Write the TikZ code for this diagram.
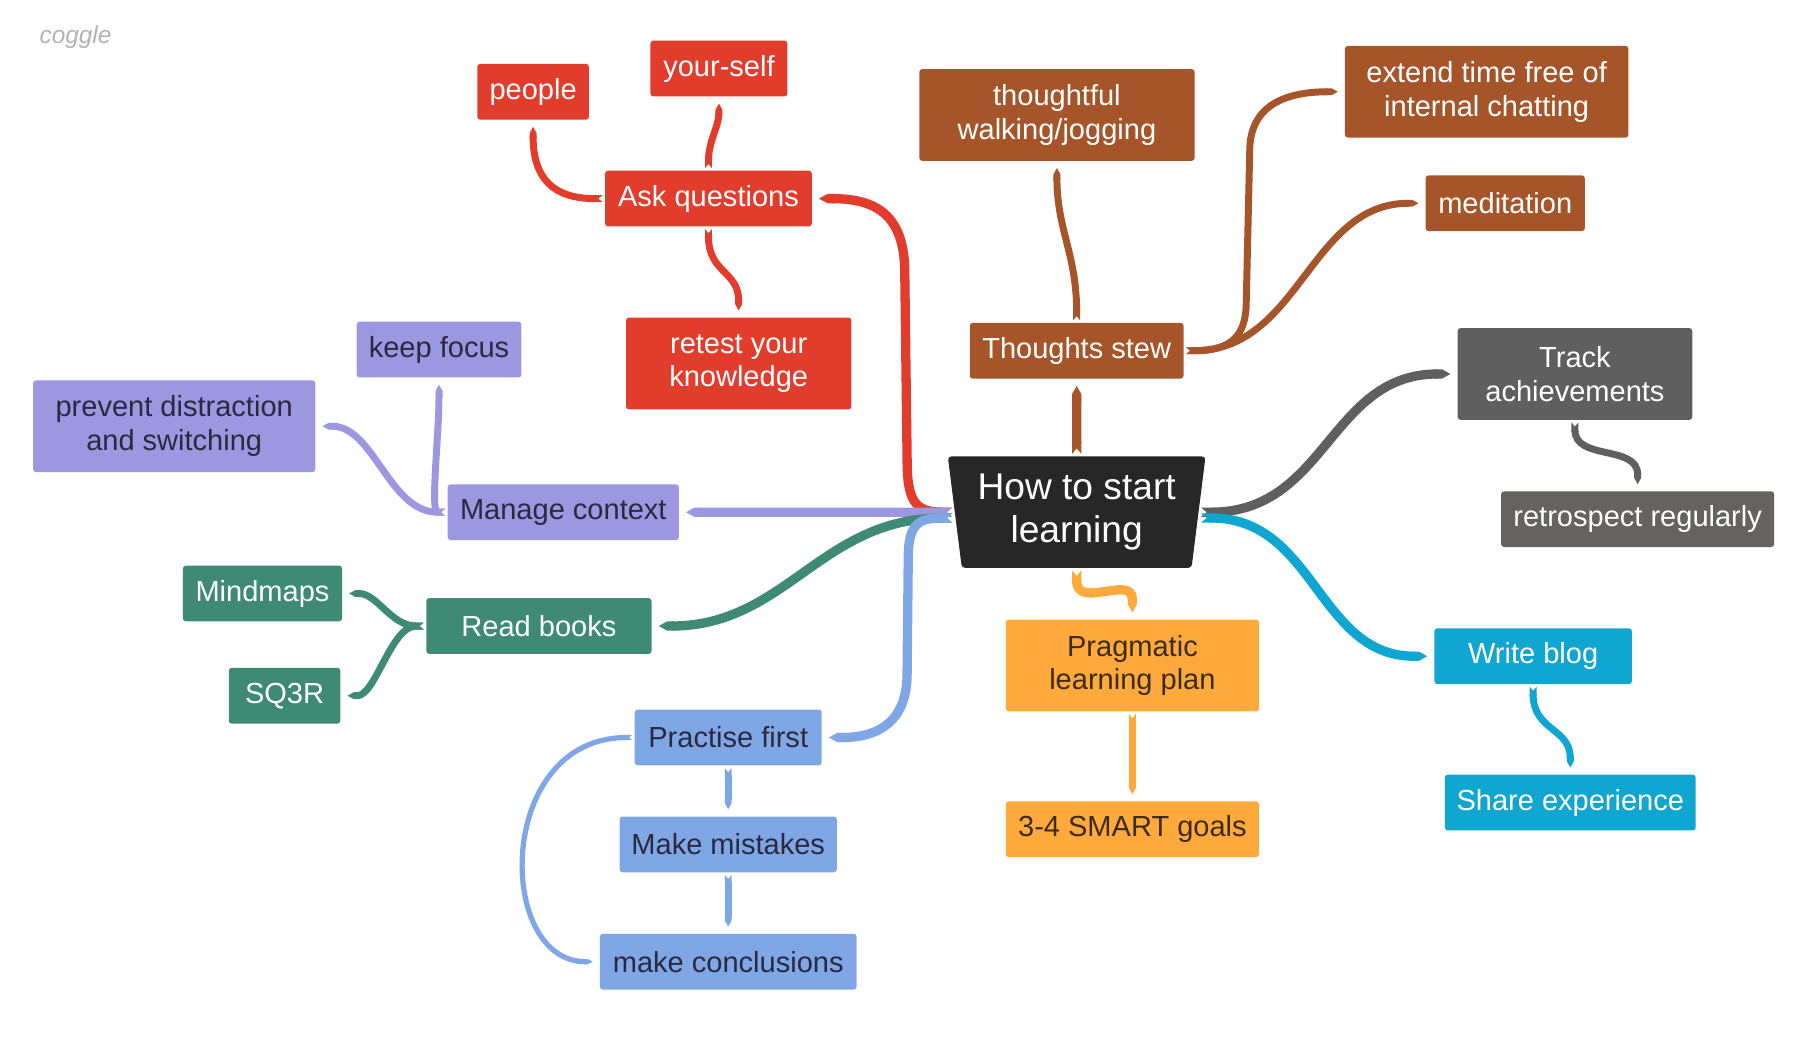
\documentclass[tikz,border=0pt]{standalone}
\usepackage{fontspec}
\setmainfont{Liberation Sans}
\usetikzlibrary{arrows.meta,shapes.geometric}
\definecolor{askred}{HTML}{E23C2D}
\definecolor{ctxpurple}{HTML}{9D96E1}
\definecolor{bookgreen}{HTML}{3E8A73}
\definecolor{practblue}{HTML}{7FA7E5}
\definecolor{stewbrown}{HTML}{A6542A}
\definecolor{trackgray}{HTML}{5F5F5F}
\definecolor{retrogray}{HTML}{666262}
\definecolor{blogcyan}{HTML}{0FA6D1}
\definecolor{planorange}{HTML}{FEA93B}
\definecolor{rootblack}{HTML}{272727}
\definecolor{darktext}{HTML}{2B2940}
\definecolor{plantext}{HTML}{3D2B17}
\def\topicfont{\fontsize{25}{29}\selectfont}
\def\rootfont{\fontsize{32}{37}\selectfont}
\tikzset{
  topic/.style={rectangle, rounded corners=2.5pt, inner sep=0pt, minimum height=48, align=center, font=\topicfont, text=white},
  tall/.style={minimum height=79},
  branch/.style={line width=8pt, arrows={Triangle Cap[reversed,length=0pt 0.6]-Triangle Cap[length=0pt 0.9]}, shorten <=2pt, shorten >=6pt},
  twig/.style={branch, line width=6pt},
  slimtwig/.style={branch, line width=4.5pt},
}
\begin{document}
\begin{tikzpicture}[x=1pt,y=-1pt]
  \useasboundingbox (0,0) rectangle (1567,893.7);
  \node[text=gray!60, font=\fontsize{21}{24}\selectfont\itshape] (brand) at (65,32) {coggle};

  % root
  \node[shape=trapezium, trapezium stretches=true, shape border rotate=180, trapezium left angle=81, trapezium right angle=81,
        minimum width=222, minimum height=96, inner sep=0pt, fill=rootblack, rounded corners=3pt,
        text=white, font=\rootfont, align=center] (root) at (927,441) {How to start\\learning};

  % red
  \node[topic, fill=askred, minimum width=178] (ask) at (610,171) {Ask questions};
  \node[topic, fill=askred, minimum width=96] (people) at (459,79) {people};
  \node[topic, fill=askred, minimum width=118] (yourself) at (619,59) {your-self};
  \node[topic, tall, fill=askred, minimum width=194] (retest) at (636,313) {retest your\\knowledge};
  % purple
  \node[topic, fill=ctxpurple, text=darktext, minimum width=199] (manage) at (485,441) {Manage context};
  \node[topic, fill=ctxpurple, text=darktext, minimum width=142] (focus) at (378,301) {keep focus};
  \node[topic, tall, fill=ctxpurple, text=darktext, minimum width=243] (prevent) at (150,367) {prevent distraction\\and switching};
  % green
  \node[topic, fill=bookgreen, minimum width=194] (books) at (464,539) {Read books};
  \node[topic, fill=bookgreen, minimum width=137] (mindmaps) at (226,511) {Mindmaps};
  \node[topic, fill=bookgreen, minimum width=96] (sqr) at (245,599) {SQ3R};
  % blue
  \node[topic, fill=practblue, text=darktext, minimum width=161] (practise) at (627,635) {Practise first};
  \node[topic, fill=practblue, text=darktext, minimum width=187] (mistakes) at (627,727) {Make mistakes};
  \node[topic, fill=practblue, text=darktext, minimum width=221] (conclude) at (627,828) {make conclusions};
  % brown
  \node[topic, fill=stewbrown, minimum width=184] (stew) at (927,302) {Thoughts stew};
  \node[topic, tall, fill=stewbrown, minimum width=237] (walking) at (910,99) {thoughtful\\walking/jogging};
  \node[topic, tall, fill=stewbrown, minimum width=244] (chatting) at (1280,79) {extend time free of\\internal chatting};
  \node[topic, fill=stewbrown, minimum width=137] (meditate) at (1296,175) {meditation};
  % gray
  \node[topic, tall, fill=trackgray, minimum width=202] (track) at (1356,322) {Track\\achievements};
  \node[topic, fill=retrogray, minimum width=235] (retro) at (1410,447) {retrospect regularly};
  % cyan
  \node[topic, fill=blogcyan, minimum width=170] (blog) at (1320,565) {Write blog};
  \node[topic, fill=blogcyan, minimum width=216] (share) at (1352,691) {Share experience};
  % orange
  \node[topic, tall, fill=planorange, text=plantext, minimum width=218] (plan) at (975,573) {Pragmatic\\learning plan};
  \node[topic, fill=planorange, text=plantext, minimum width=218] (smart) at (975,714) {3-4 SMART goals};

  % branches from the root
  \draw[branch, askred] (root.west) .. controls +(-35,0) and +(0,35) .. (781,395) -- (779,235) .. controls +(0,-50) and +(55,0) .. (ask.east);
  \draw[branch, ctxpurple] (root.west) -- (manage.east);
  \draw[branch, bookgreen] ([yshift=-5]root.west) .. controls +(-115,0) and +(115,0) .. (books.east);
  \draw[branch, practblue] ([yshift=-5]root.west) .. controls +(-30,0) and +(0,-30) .. (782,480) -- (781,580) .. controls +(0,40) and +(50,0) .. (practise.east);
  \draw[branch, stewbrown] (root.north) -- (stew.south);
  \draw[branch, trackgray] (root.east) .. controls +(110,0) and +(-110,0) .. (track.west);
  \draw[branch, blogcyan] ([yshift=-5]root.east) .. controls +(100,0) and +(-100,0) .. (blog.west);
  \draw[branch, planorange] (root.south) .. controls +(0,36) and +(0,-39) .. (plan.north);

  % sub branches
  \draw[twig, askred] (ask.north) .. controls +(0,-25) and +(0,25) .. (yourself.south);
  \draw[twig, askred] (ask.west) .. controls +(-45,0) and +(0,50) .. (people.south);
  \draw[twig, askred] (ask.south) .. controls +(0,40) and +(0,-40) .. (retest.north);
  \draw[twig, ctxpurple] (manage.west) .. controls +(-15,0) and +(0,50) .. (focus.south);
  \draw[twig, ctxpurple] (manage.west) .. controls +(-50,0) and +(50,0) .. (prevent.east);
  \draw[twig, bookgreen] (books.west) .. controls +(-30,0) and +(30,0) .. (mindmaps.east);
  \draw[twig, bookgreen] (books.west) .. controls +(-30,0) and +(30,0) .. (sqr.east);
  \draw[twig, practblue] (practise.south) -- (mistakes.north);
  \draw[twig, practblue] (mistakes.south) -- (conclude.north);
  \draw[slimtwig, practblue] (practise.west) .. controls +(-120,0) and +(-90,0) .. (conclude.west);
  \draw[twig, stewbrown] (stew.north) .. controls +(0,-60) and +(0,60) .. (walking.south);
  \draw[twig, stewbrown] (stew.east) .. controls +(40,0) and +(0,30) .. (1073,260) -- (1076,130) .. controls +(0,-40) and +(-50,0) .. (chatting.west);
  \draw[twig, stewbrown] (stew.east) .. controls +(100,0) and +(-100,0) .. (meditate.west);
  \draw[twig, trackgray] (track.south) .. controls +(0,35) and +(0,-40) .. (retro.north);
  \draw[twig, blogcyan] (blog.south) .. controls +(0,40) and +(0,-40) .. (share.north);
  \draw[twig, planorange] (plan.south) -- (smart.north);
\end{tikzpicture}
\end{document}
